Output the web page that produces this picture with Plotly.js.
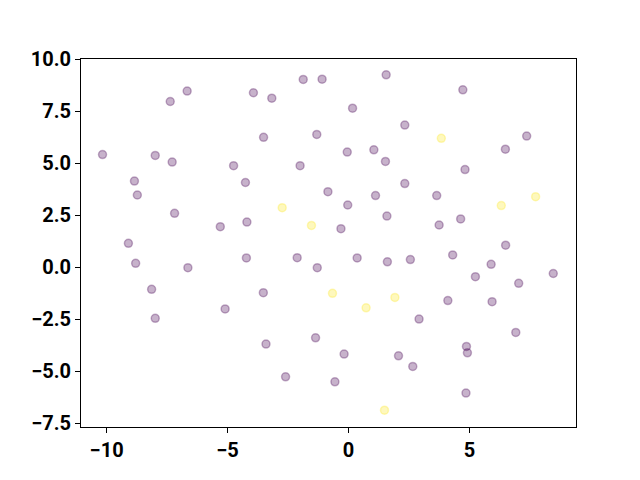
<!DOCTYPE html>
<html>
<head>
<meta charset="utf-8">
<script src="https://cdn.plot.ly/plotly-3.0.1.min.js"></script>
<style>html,body{margin:0;padding:0;background:#fff;}#chart{width:640px;height:480px;}</style>
</head>
<body>
<div id="chart"></div>
<script>
// Class 0 (purple) points
const xClass0 = [-10.17, -8.85, -7.99, -7.29, -7.37, -6.67, -4.75, -4.26, -3.93, -3.17,
  -1.87, -1.09, 1.56, 0.17, -3.51, -1.31, 2.33, -0.05, 1.05, 1.53,
  -2.0, 2.33, 4.73, 7.37, 6.49, 4.82, -8.73, -7.19, -5.30, -4.20,
  -9.10, -8.80, -6.64, -4.22, -8.14, -5.10, -0.85, 1.12, -0.03, 1.59,
  -0.31, -2.12, -1.29, 0.36, 1.61, 2.56, -3.52, 3.65, 4.64, 3.75,
  6.50, 4.31, 5.90, 5.25, 8.47, 7.04, 4.11, 5.94, -7.99, -1.36,
  -3.41, -0.18, 2.07, 2.66, -2.60, -0.56, 2.92, 6.92, 4.88, 4.92,
  4.86];
const yClass0 = [5.41, 4.14, 5.37, 5.05, 7.96, 8.46, 4.88, 4.07, 8.38, 8.12,
  9.02, 9.03, 9.24, 7.64, 6.24, 6.38, 6.83, 5.53, 5.64, 5.08,
  4.88, 4.02, 8.52, 6.30, 5.67, 4.69, 3.47, 2.59, 1.95, 2.17,
  1.15, 0.19, -0.02, 0.45, -1.06, -2.0, 3.63, 3.44, 2.99, 2.46,
  1.85, 0.46, -0.02, 0.45, 0.26, 0.37, -1.22, 3.44, 2.32, 2.03,
  1.06, 0.59, 0.14, -0.45, -0.30, -0.77, -1.60, -1.65, -2.45, -3.39,
  -3.69, -4.17, -4.25, -4.76, -5.26, -5.50, -2.49, -3.13, -3.80, -4.11,
  -6.04];
// Class 1 (yellow) points
const xClass1 = [3.84, -2.74, -1.53, -0.66, 1.92, 0.73, 7.74, 6.32, 1.49];
const yClass1 = [6.19, 2.86, 2.01, -1.25, -1.45, -1.95, 3.39, 2.96, -6.86];

const purple = 'rgba(68,1,84,0.3)';
const yellow = 'rgba(253,231,37,0.3)';

const traces = [
  {x: xClass0, y: yClass0, type: 'scatter', mode: 'markers', hoverinfo: 'skip',
   marker: {size: 8, color: purple, line: {color: purple, width: 1.5}}},
  {x: xClass1, y: yClass1, type: 'scatter', mode: 'markers', hoverinfo: 'skip',
   marker: {size: 8, color: yellow, line: {color: yellow, width: 1.5}}}
];

const tickFont = {family: 'Roboto, "Liberation Sans", sans-serif', size: 20, color: '#000', weight: 'bold'};

const layout = {
  width: 640, height: 480,
  margin: {l: 81, r: 64, t: 59, b: 53, pad: 0},
  paper_bgcolor: '#fff', plot_bgcolor: '#fff',
  showlegend: false,
  xaxis: {range: [-11.06, 9.41], tickmode: 'linear', tick0: 0, dtick: 5,
    showgrid: false, zeroline: false, showline: true, mirror: true,
    linecolor: '#000', linewidth: 1, ticks: 'outside', ticklen: 5, tickwidth: 1,
    tickcolor: '#000', tickfont: tickFont},
  yaxis: {range: [-7.67, 10.0], tickmode: 'linear', tick0: 0, dtick: 2.5, tickformat: '.1f',
    showgrid: false, zeroline: false, showline: true, mirror: true,
    linecolor: '#000', linewidth: 1, ticks: 'outside', ticklen: 5, tickwidth: 1,
    tickcolor: '#000', tickfont: tickFont}
};

Plotly.newPlot('chart', traces, layout, {displayModeBar: false, staticPlot: true});
</script>
</body>
</html>
